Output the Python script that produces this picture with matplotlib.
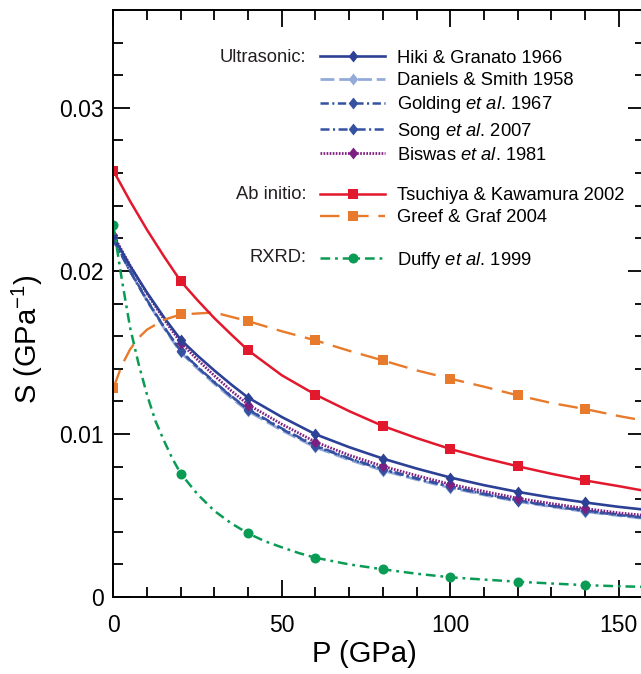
import matplotlib
matplotlib.use("Agg")
import matplotlib.pyplot as plt
from matplotlib.legend import Legend
from matplotlib.ticker import MultipleLocator

plt.rcParams["font.family"] = ["Liberation Sans", "DejaVu Sans"]
plt.rcParams["mathtext.fontset"] = "custom"
plt.rcParams["mathtext.rm"] = "Liberation Sans"
plt.rcParams["mathtext.it"] = "Liberation Sans:italic"
plt.rcParams["lines.scale_dashes"] = False

# pressure grid for the smooth ultrasonic / ab initio curves (GPa)
P = [0, 5, 10, 15, 20, 25, 30, 35, 40, 50, 60, 70, 80, 90, 100, 110, 120, 130, 140, 150, 158]
hiki = [0.0221, 0.0203, 0.01867, 0.01716, 0.01578, 0.0148, 0.01389, 0.01303, 0.01223,
        0.01104, 0.00998, 0.00919, 0.00849, 0.00788, 0.00733, 0.00686, 0.00645, 0.0061,
        0.0058, 0.00553, 0.00535]
daniels = [0.0220, 0.01999, 0.01817, 0.01651, 0.0150, 0.01401, 0.01308, 0.01221, 0.0114,
           0.01022, 0.00918, 0.00841, 0.00776, 0.0072, 0.0067, 0.00626, 0.00586, 0.00554,
           0.00524, 0.00499, 0.00481]
golding = [0.0220, 0.0200, 0.01822, 0.01658, 0.01508, 0.01409, 0.01316, 0.0123, 0.01149,
           0.0103, 0.00925, 0.00848, 0.00782, 0.00726, 0.00676, 0.00631, 0.0059, 0.00558,
           0.00528, 0.00503, 0.00485]
song = [0.0219, 0.01996, 0.01818, 0.01657, 0.0151, 0.01411, 0.01319, 0.01233, 0.01152,
        0.01034, 0.00929, 0.00851, 0.00785, 0.00729, 0.00679, 0.00634, 0.00593, 0.00561,
        0.00531, 0.00506, 0.00488]
biswas = [0.0222, 0.02033, 0.01861, 0.01704, 0.0156, 0.01455, 0.01357, 0.01265, 0.0118,
          0.0106, 0.00951, 0.0087, 0.00802, 0.00745, 0.00692, 0.00648, 0.00606, 0.00573,
          0.00543, 0.00516, 0.0050]
tsuchiya = [0.02615, 0.02427, 0.02252, 0.0209, 0.01937, 0.0182, 0.0171, 0.0161, 0.01513,
            0.0136, 0.01241, 0.0114, 0.01049, 0.00975, 0.00908, 0.00852, 0.00802, 0.00756,
            0.00715, 0.0068, 0.0065]

# Greef and Duffy change fast at low pressure, so they carry extra points there
P_greef = [0, 2.5, 5, 7.5, 10, 15, 20, 30, 40, 50, 60, 70, 80, 90, 100, 110, 120, 130,
           140, 150, 158]
greef = [0.0128, 0.0142, 0.0152, 0.0159, 0.0164, 0.0170, 0.01733, 0.01745, 0.01692,
         0.0163, 0.01574, 0.0151, 0.01451, 0.0139, 0.01339, 0.0129, 0.01237, 0.0119,
         0.01153, 0.0111, 0.0108]
P_duffy = [0, 2.5, 5, 7.5, 10, 12.5, 15, 17.5, 20, 25, 30, 35, 40, 45, 50, 55, 60, 70, 80,
           90, 100, 110, 120, 130, 140, 150, 158]
duffy = [0.0228, 0.0195, 0.0165, 0.0143, 0.0124, 0.0108, 0.0096, 0.0085, 0.00757, 0.0063,
         0.00528, 0.00452, 0.0039, 0.00342, 0.00305, 0.0027, 0.00241, 0.0020, 0.0017,
         0.00143, 0.00121, 0.00107, 0.00094, 0.00083, 0.00073, 0.00066, 0.00062]

# symbols sit on the tabulated pressures only
MARKED_P = [0, 20, 40, 60, 80, 100, 120, 140]

DIAMOND = [(0, 1), (0.8, 0), (0, -1), (-0.8, 0), (0, 1)]


def marks(xs):
    return [i for i, p in enumerate(xs) if p in MARKED_P]


fig = plt.figure(figsize=(6.41, 6.74), dpi=100)
ax = fig.add_axes([0.1768, 0.1142, 0.8295, 0.8709])

series = [
    # label, x, y, color, dashes, marker, ms, lw
    ("Daniels & Smith 1958", P, daniels, "#93aad9", (10, 3.5), DIAMOND, 8.6, 2.0),
    ("Golding $\\mathit{et\\ al}$. 1967", P, golding, "#3552a2", (6, 2.5, 1.5, 2.5), DIAMOND, 8.6, 1.8),
    ("Song $\\mathit{et\\ al}$. 2007", P, song, "#3552a2", (6.5, 2.5, 1.5, 2.5), DIAMOND, 8.6, 1.8),
    ("Biswas $\\mathit{et\\ al}$. 1981", P, biswas, "#7d1f80", (1.2, 1.0), DIAMOND, 8.6, 2.0),
    ("Hiki & Granato 1966", P, hiki, "#2c4095", None, DIAMOND, 8.6, 1.9),
    ("Greef & Graf 2004", P_greef, greef, "#e87a2b", (14, 7), "s", 7.7, 1.7),
    ("Tsuchiya & Kawamura 2002", P, tsuchiya, "#e2182d", None, "s", 7.7, 1.8),
    ("Duffy $\\mathit{et\\ al}$. 1999", P_duffy, duffy, "#0a9b55", (7, 3.5, 2, 3.5), "o", 7.2, 1.8),
]

lines = {}
for label, xs, ys, color, dashes, marker, ms, lw in series:
    (ln,) = ax.plot(xs, ys, color=color, lw=lw, marker=marker, ms=ms, mew=0,
                    markevery=marks(xs), label=label)
    if dashes is not None:
        ln.set_dashes(dashes)
    lines[label] = ln

ax.set_xlim(0, 157.8)
ax.set_ylim(0, 0.036)
ax.xaxis.set_major_locator(MultipleLocator(50))
ax.xaxis.set_minor_locator(MultipleLocator(10))
ax.yaxis.set_major_locator(MultipleLocator(0.01))
ax.yaxis.set_minor_locator(MultipleLocator(0.002))
ax.yaxis.set_major_formatter(plt.FuncFormatter(lambda v, _: "0" if v == 0 else f"{v:g}"))

for s in ax.spines.values():
    s.set_linewidth(1.4)
ax.tick_params(which="both", direction="in", top=True, right=True, width=1.3,
               labelsize=16.5)
ax.tick_params(which="major", length=12)
ax.tick_params(which="minor", length=7)
ax.tick_params(axis="x", pad=12)
ax.tick_params(axis="y", pad=7)

ax.set_xlabel("P (GPa)", fontsize=21)
ax.set_ylabel("S (GPa$^{-1}$)", fontsize=21)
ax.xaxis.set_label_coords(0.473, -0.073)
ax.yaxis.set_label_coords(-0.128, 0.44)

groups = [
    ("Ultrasonic:", ["Hiki & Granato 1966", "Daniels & Smith 1958",
                     "Golding $\\mathit{et\\ al}$. 1967", "Song $\\mathit{et\\ al}$. 2007",
                     "Biswas $\\mathit{et\\ al}$. 1981"], 0.9216),
    ("Ab initio:", ["Tsuchiya & Kawamura 2002", "Greef & Graf 2004"], 0.6877),
    ("RXRD:", ["Duffy $\\mathit{et\\ al}$. 1999"], 0.5809),
]

for title, labels, y in groups:
    leg = Legend(ax, [lines[l] for l in labels], labels, loc="upper left",
                 bbox_to_anchor=(0.3888, y + 0.0107), frameon=False, fontsize=13.2,
                 numpoints=1, handlelength=3.55, handletextpad=0.67,
                 labelspacing=0.286, borderpad=0, borderaxespad=0)
    ax.add_artist(leg)
    ax.text(0.3624, y - 0.002, title, transform=ax.transAxes, ha="right", va="center",
            fontsize=13.2, color="#231f20")

fig.savefig("out.png", dpi=100)
